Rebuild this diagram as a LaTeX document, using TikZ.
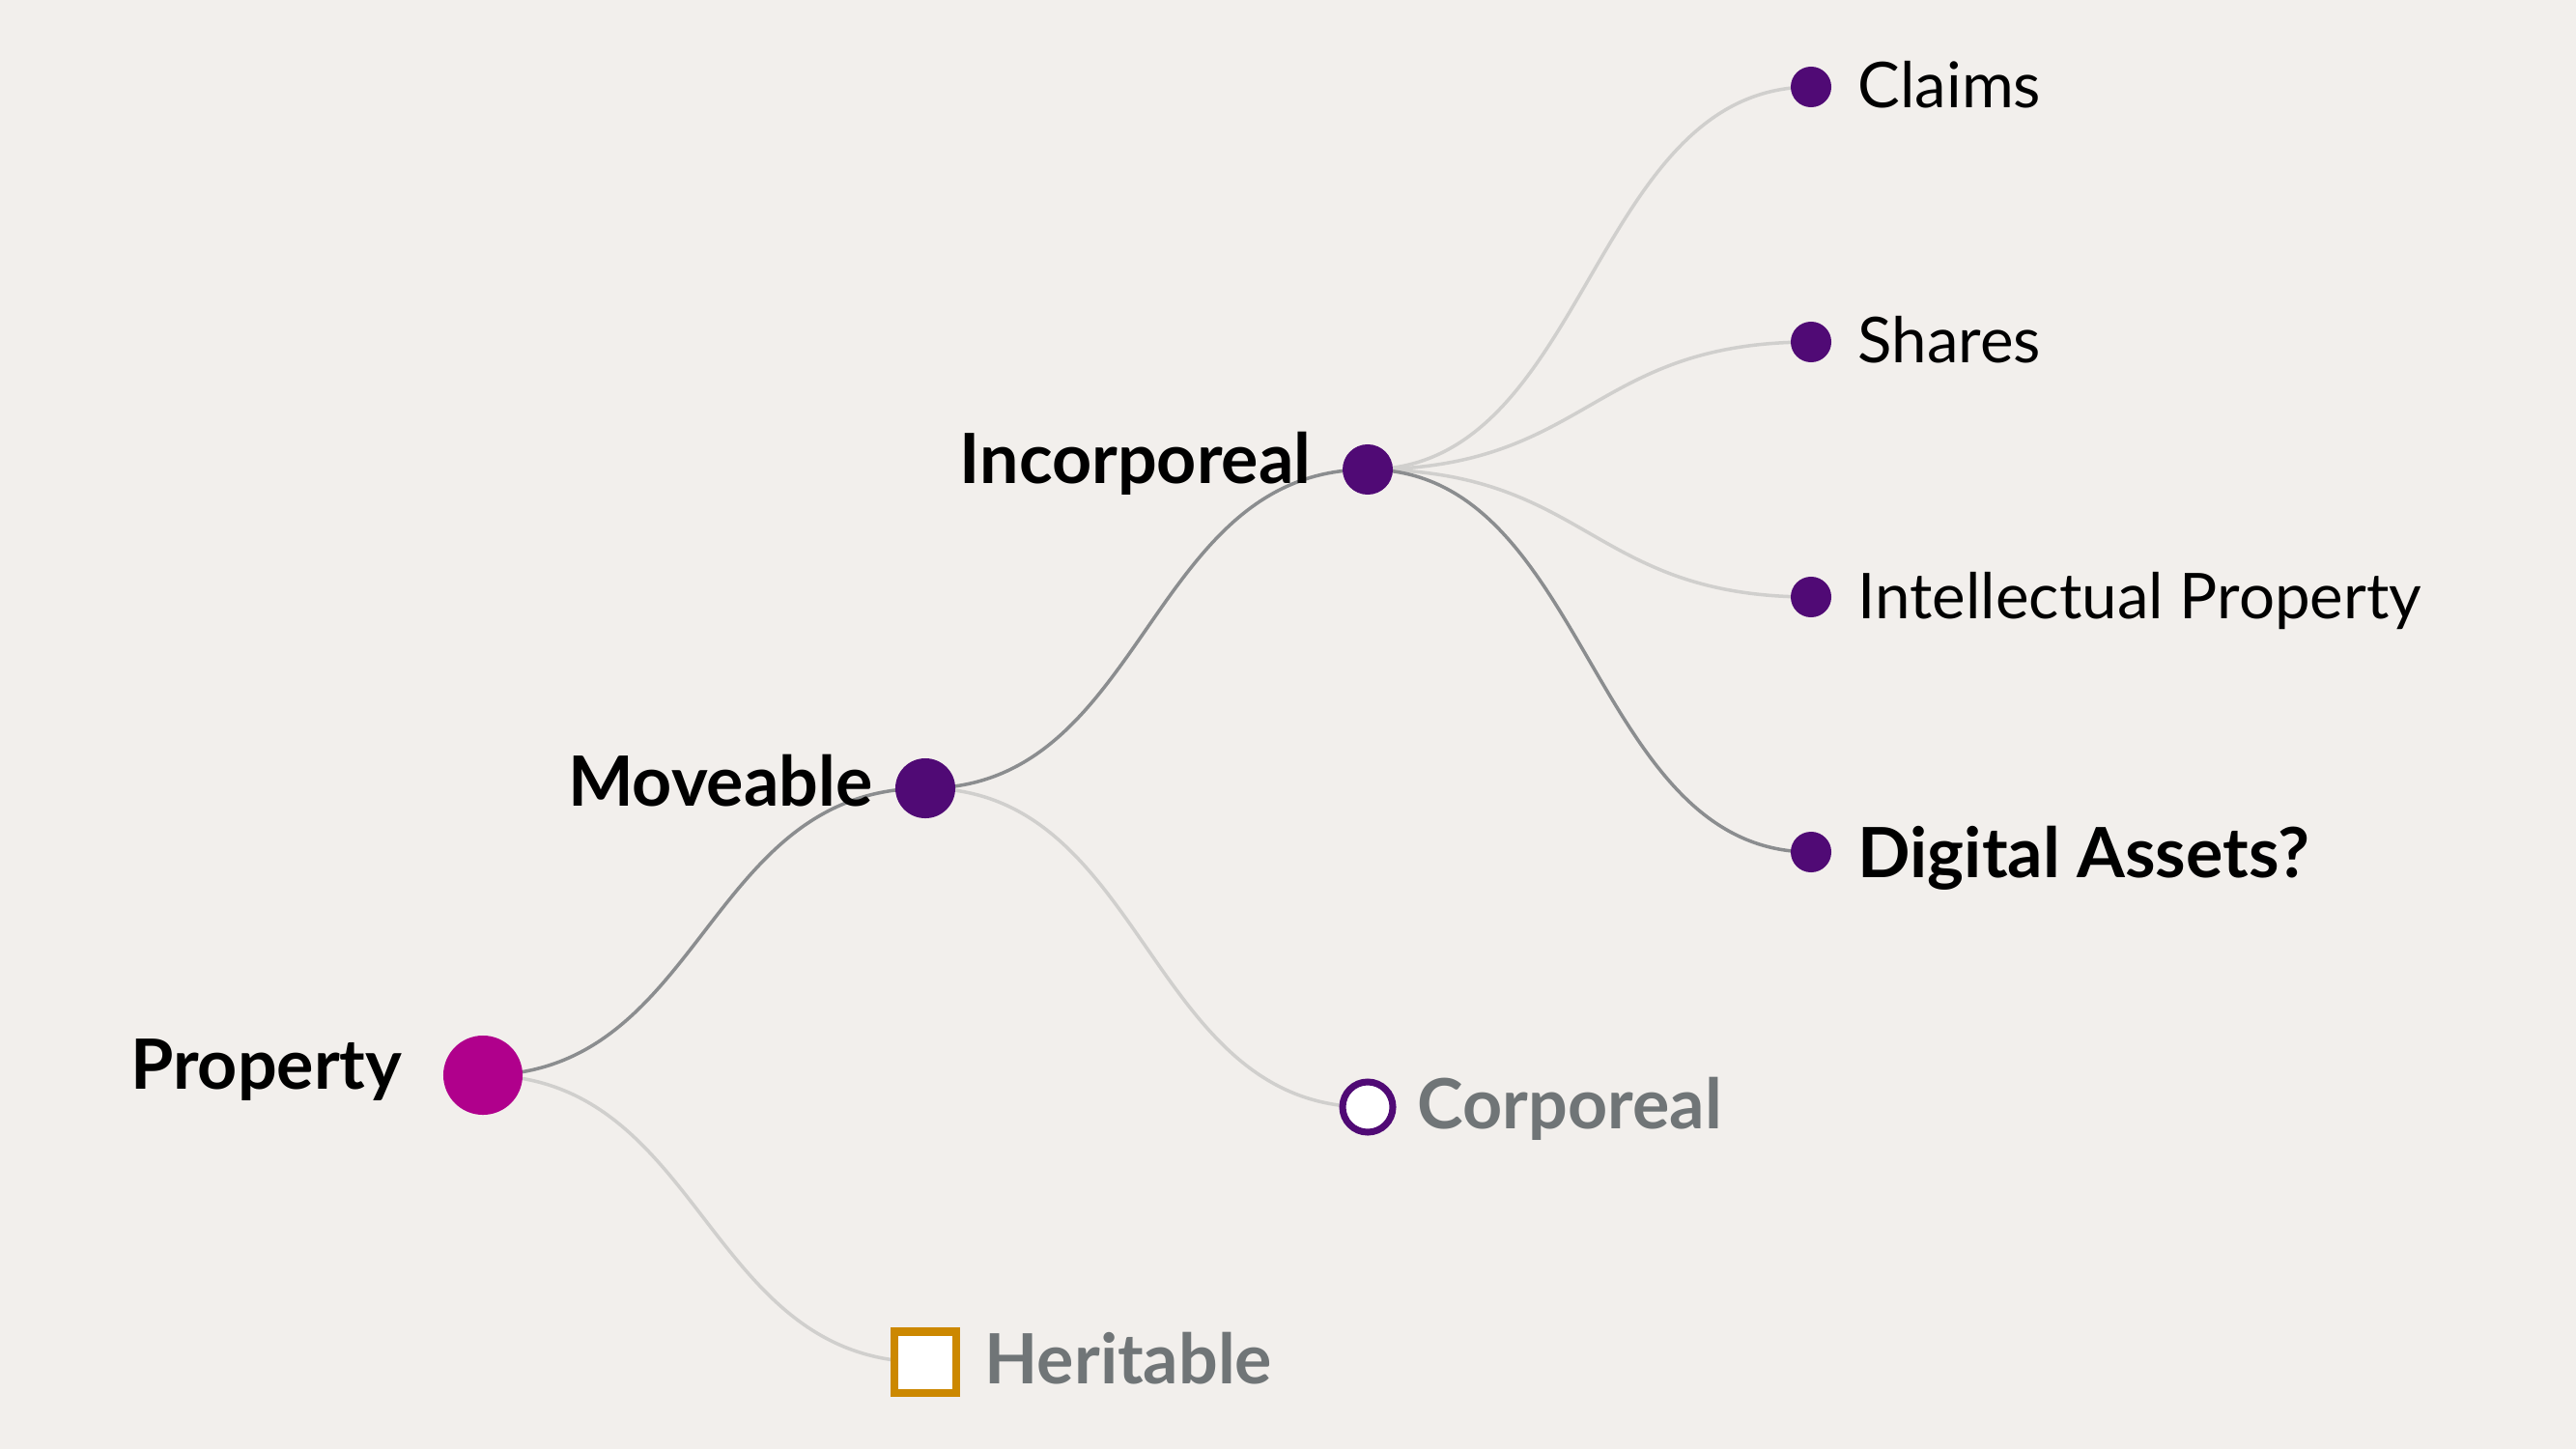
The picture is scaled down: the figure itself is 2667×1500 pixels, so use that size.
\documentclass[tikz,border=0pt]{standalone}
\usepackage{fontspec}
\setmainfont{Lato}
\usetikzlibrary{backgrounds}

\definecolor{paper}{HTML}{F2EFEC}
\definecolor{rootpink}{HTML}{B0008C}
\definecolor{plum}{HTML}{500A75}
\definecolor{ochre}{HTML}{CC8800}
\definecolor{linkdark}{HTML}{8B8D8F}
\definecolor{linklight}{HTML}{D0CFCD}
\definecolor{fadetext}{HTML}{707577}

\begin{document}
\begin{tikzpicture}[x=0.01cm,y=-0.01cm,
    % dots
    dot/.style={circle,inner sep=0pt,fill=plum},
    rootdot/.style={dot,fill=rootpink,minimum size=8.2mm},
    leafdot/.style={dot,minimum size=4.2mm},
    hollowdot/.style={circle,inner sep=0pt,minimum size=5.2mm,
      line width=0.7mm,draw=plum,fill=white},
    landbox/.style={rectangle,inner sep=0pt,minimum size=6.3mm,
      line width=0.8mm,draw=ochre,fill=white},
    % texts
    tag/.style={inner sep=0pt,text=black,font=\fontsize{18.6pt}{22pt}\selectfont},
    tagbold/.style={tag,font=\fontsize{20.4pt}{24pt}\selectfont\bfseries},
    tagfade/.style={tagbold,text=fadetext},
    % links
    trunk/.style={line width=1pt,draw=linkdark},
    twig/.style={line width=1pt,draw=linklight}]

    \useasboundingbox (0,0) rectangle (2667,1500);

    \node (property) [rootdot] at (500,1113) {};
    \node (moveable) [dot,minimum size=6.2mm] at (958,816) {};
    \node (heritable) [landbox] at (958,1410) {};
    \node (incorporeal) [dot,minimum size=5.2mm] at (1416,486) {};
    \node (corporeal) [hollowdot] at (1416,1146) {};
    \node (claims) [leafdot] at (1875,90) {};
    \node (shares) [leafdot] at (1875,354) {};
    \node (ip) [leafdot] at (1875,618) {};
    \node (digital) [leafdot] at (1875,882) {};

    \node (property-text) [tagbold,anchor=base east] at (417,1127) {Property};
    \node (moveable-text) [tagbold,anchor=base east] at (904,834) {Moveable};
    \node (incorporeal-text) [tagbold,anchor=base east] at (1358,500) {Incorporeal};
    \node (heritable-text) [tagfade,anchor=base west] at (1019,1432) {Heritable};
    \node (corporeal-text) [tagfade,anchor=base west] at (1467,1168) {Corporeal};
    \node (claims-text) [tag,anchor=base west] at (1923,112) {Claims};
    \node (shares-text) [tag,anchor=base west] at (1923,375) {Shares};
    \node (ip-text) [tag,anchor=base west] at (1923,640) {Intellectual Property};
    \node (digital-text) [tagbold,anchor=base west] at (1923,908) {Digital Assets?};

    \begin{scope}[on background layer]
      \fill[paper] (0,0) rectangle (2667,1500);
      % faint branches first
      \draw[twig] (property.center) .. controls +(229,0) and +(-229,0) .. (heritable.center);
      \draw[twig] (moveable.center) .. controls +(229,0) and +(-229,0) .. (corporeal.center);
      \draw[twig] (incorporeal.center) .. controls +(229,0) and +(-229,0) .. (claims.center);
      \draw[twig] (incorporeal.center) .. controls +(229,0) and +(-229,0) .. (shares.center);
      \draw[twig] (incorporeal.center) .. controls +(229,0) and +(-229,0) .. (ip.center);
      % highlighted route
      \draw[trunk] (property.center) .. controls +(229,0) and +(-229,0) .. (moveable.center);
      \draw[trunk] (moveable.center) .. controls +(229,0) and +(-229,0) .. (incorporeal.center);
      \draw[trunk] (incorporeal.center) .. controls +(229,0) and +(-229,0) .. (digital.center);
    \end{scope}
\end{tikzpicture}
\end{document}
